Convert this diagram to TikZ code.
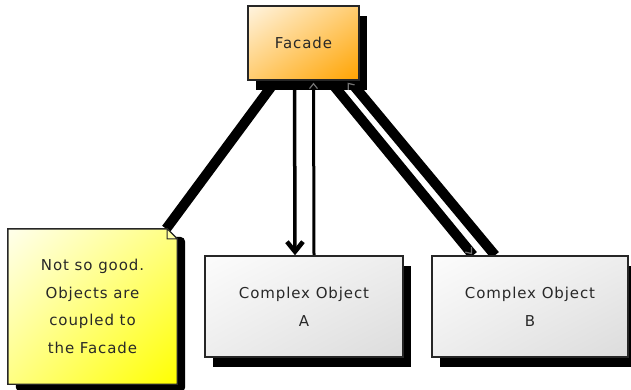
\documentclass[tikz,border=0pt]{standalone}
\usepackage{fontspec}
\setmainfont{DejaVu Sans}[LetterSpace=6.0]
\usetikzlibrary{shadows,shadings,arrows.meta}
\pgfdeclarelayer{links}
\pgfdeclarelayer{paper}
\pgfsetlayers{links,paper,main}

\definecolor{ink}{RGB}{40,40,40}
\definecolor{facadeA}{RGB}{255,244,224}
\definecolor{facadeB}{RGB}{255,204,112}
\definecolor{facadeC}{RGB}{255,163,0}
\definecolor{noteA}{RGB}{255,255,236}
\definecolor{noteB}{RGB}{255,255,130}
\definecolor{noteC}{RGB}{255,255,0}
\definecolor{objA}{RGB}{252,252,252}
\definecolor{objB}{RGB}{237,237,237}
\definecolor{objC}{RGB}{220,220,220}

\begin{document}
\begin{tikzpicture}[x=1pt,y=-1pt,
  box/.style={draw=black!85, line width=1.4pt, inner sep=0pt, align=center,
    font=\fontsize{15}{28}\selectfont, text=ink,
    drop shadow={shadow xshift=8pt, shadow yshift=-10pt, opacity=1,
      fill=black, rounded corners=5pt}},
  facadefill/.style={upper left=facadeA, upper right=facadeB,
    lower left=facadeB, lower right=facadeC},
  objfill/.style={upper left=objA, upper right=objB,
    lower left=objB, lower right=objC},
  notebox/.style={inner sep=0pt, align=center,
    font=\fontsize{15}{27.5}\selectfont, text=ink},
  heavy/.style={line width=10pt, black},
  slim/.style={line width=3.5pt, black},
  graytip/.style={line width=2pt, black,
    -{Straight Barb[length=5pt, width=8pt, line width=1.2pt, color=black!55]}},
  bigtip/.style={-{Straight Barb[length=10pt, width=16pt, line width=4.5pt]}}
]
\useasboundingbox (0,0) rectangle (631,390);

% classes
\node[box, facadefill, minimum width=111pt, minimum height=74pt] (facade)
  at (303.5,43) {Facade};
\node[box, objfill, minimum width=198pt, minimum height=101pt] (a)
  at (304,306.5) {Complex Object\\A};
\node[box, objfill, minimum width=196pt, minimum height=101pt] (b)
  at (530,306.5) {Complex Object\\B};

% note with folded corner
\node[notebox, minimum width=169pt, minimum height=155pt] (note)
  at (92.5,306.5) {Not so good.\\Objects are\\coupled to\\the Facade};
\begin{pgfonlayer}{paper}
  \fill[black, rounded corners=5pt]
    ([xshift=8pt,yshift=-8pt]note.north west) rectangle
    ([xshift=8pt,yshift=-8pt]note.south east);
  \shade[draw=black!85, line width=1.4pt, upper left=noteA, upper right=noteB,
      lower left=noteB, lower right=noteC]
    (note.north west) -- ([xshift=-10pt]note.north east)
    -- ([yshift=-10pt]note.north east) -- (note.south east)
    -- (note.south west) -- cycle;
  \draw[black!85, line width=1pt, fill=noteB!70!white]
    ([xshift=-10pt]note.north east) -- ([xshift=-10pt,yshift=-10pt]note.north east)
    -- ([yshift=-10pt]note.north east) -- cycle;
\end{pgfonlayer}

% connectors
\begin{pgfonlayer}{links}
  \draw[heavy] ([xshift=-11pt]note.north east) -- (facade);
  \draw[slim, bigtip] ([xshift=-9pt]facade.south) -- ([xshift=-9pt]a.north);
  \draw[slim, line width=3pt] ([xshift=10pt]a.north) -- ([xshift=10pt]facade.south);
  \draw[heavy] ([xshift=-30pt]facade.south east) -- ([xshift=-57pt]b.north);
  \draw[heavy] ([xshift=-10pt]facade.south east) -- ([xshift=-35pt]b.north);
\end{pgfonlayer}

% arrow heads over the shadows
\draw[graytip] ([xshift=10pt,yshift=-14pt]facade.south)
  -- ([xshift=10pt,yshift=-2pt]facade.south);
\draw[graytip] ([xshift=-4pt,yshift=-12pt]facade.south east)
  -- ([xshift=-12pt,yshift=-2pt]facade.south east);
\draw[graytip] ([xshift=-65pt,yshift=10pt]b.north)
  -- ([xshift=-58pt,yshift=1pt]b.north);
\end{tikzpicture}
\end{document}
